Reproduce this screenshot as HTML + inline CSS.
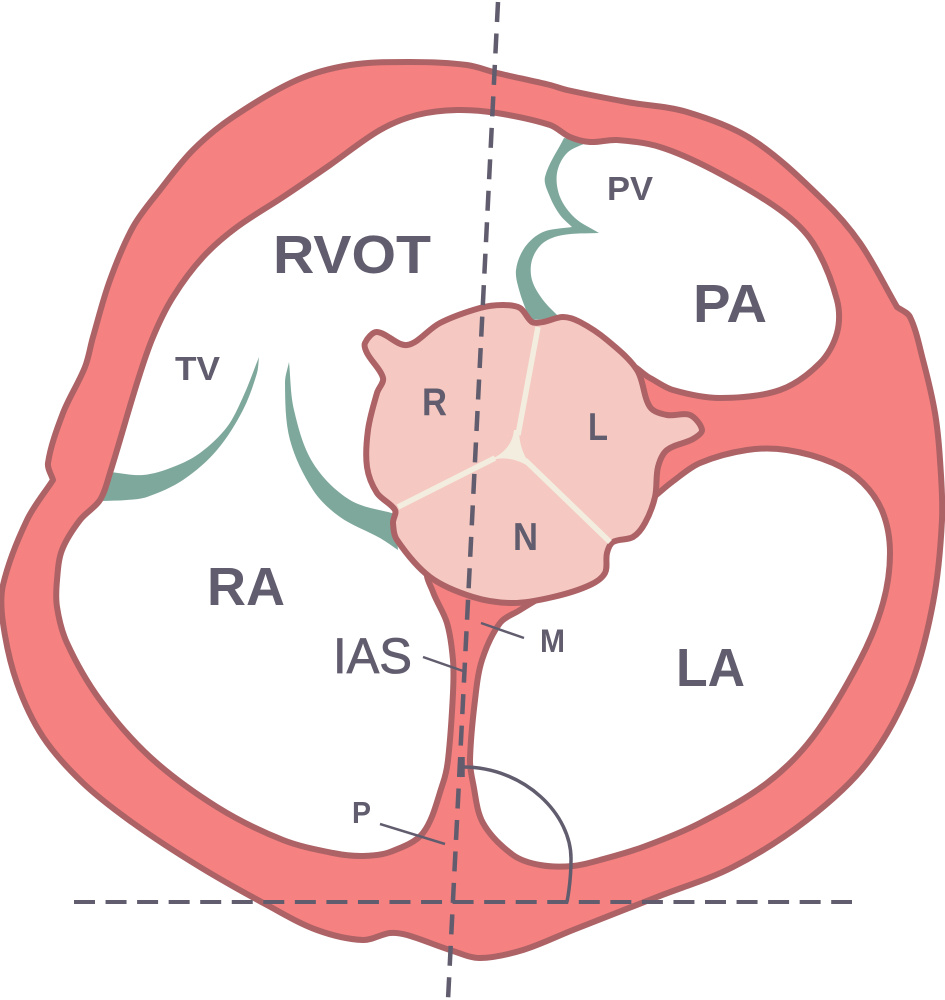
<!DOCTYPE html>
<html>
<head>
<meta charset="utf-8">
<style>
html,body{margin:0;padding:0;background:#fff;width:945px;height:1000px;overflow:hidden}
svg{display:block}
text{font-family:"Liberation Sans",sans-serif;fill:#625d6e;font-weight:bold}
</style>
</head>
<body>
<svg id="s" width="945" height="1000" viewBox="0 0 945 1000" xmlns="http://www.w3.org/2000/svg">
<path id="wall" fill="#f58181" stroke="#ad6266" stroke-width="6" stroke-linejoin="round"/>
<path id="cav" fill="#fff"/>
<path id="la" fill="#fff"/>
<path id="t1" fill="#7fa89c"/>
<path id="t2" fill="#7fa89c"/>
<path id="t3" fill="#7fa89c"/>
<path id="cavs" fill="none" stroke="#ad6266" stroke-width="6" stroke-linejoin="round"/>
<path id="las" fill="none" stroke="#ad6266" stroke-width="6" stroke-linejoin="round"/>
<path id="root" fill="#f5c9c1" stroke="#ad6266" stroke-width="6" stroke-linejoin="round"/>
<g stroke="#f3ede0" stroke-width="5.5" fill="none">
<line x1="538" y1="327" x2="518" y2="435"/>
<line x1="398" y1="507" x2="495" y2="458"/>
<line x1="610" y1="542" x2="525" y2="460"/>
</g>
<path d="M519 430 Q519 452 534 470 Q510 452 485 462 Q512 452 514 430 Z" fill="#f3ede0"/>
<g stroke="#625d6e" fill="none">
<line x1="498" y1="2" x2="448" y2="1000" stroke-width="4.5" stroke-dasharray="20 11.5"/>
<line x1="74" y1="902" x2="852" y2="902" stroke-width="4" stroke-dasharray="21 10.55"/>
<path d="M463 767 C525 767 572 815 571 860 Q571 880 567 902" stroke-width="3.5"/>
<line x1="463" y1="757" x2="463" y2="777" stroke-width="3.5"/>
<line x1="423" y1="657" x2="463" y2="671" stroke-width="2.5"/>
<line x1="481" y1="623" x2="524" y2="638" stroke-width="2.5"/>
<line x1="380" y1="824" x2="445" y2="844" stroke-width="2.5"/>
</g>
<text x="273" y="273" font-size="54" textLength="158" lengthAdjust="spacingAndGlyphs">RVOT</text>
<text x="207" y="605" font-size="54" textLength="78" lengthAdjust="spacingAndGlyphs">RA</text>
<text x="693" y="322" font-size="54" textLength="74" lengthAdjust="spacingAndGlyphs">PA</text>
<text x="676" y="686" font-size="54" textLength="69" lengthAdjust="spacingAndGlyphs">LA</text>
<text x="333" y="673" font-size="50" style="font-weight:normal;stroke:#625d6e;stroke-width:.8" textLength="79" lengthAdjust="spacingAndGlyphs">IAS</text>
<text x="175" y="380" font-size="33" textLength="45" lengthAdjust="spacingAndGlyphs">TV</text>
<text x="607" y="200" font-size="33" textLength="46" lengthAdjust="spacingAndGlyphs">PV</text>
<text x="422" y="415" font-size="39" textLength="25" lengthAdjust="spacingAndGlyphs">R</text>
<text x="588" y="440" font-size="39" textLength="20" lengthAdjust="spacingAndGlyphs">L</text>
<text x="513" y="550" font-size="39" textLength="25" lengthAdjust="spacingAndGlyphs">N</text>
<text x="540" y="652" font-size="32" textLength="25" lengthAdjust="spacingAndGlyphs">M</text>
<text x="352" y="823" font-size="31" textLength="19" lengthAdjust="spacingAndGlyphs">P</text>
</svg>
<script>
function L(a,b){return Math.hypot(a[0]-b[0],a[1]-b[1])||1;}
function tan(a,b,c){var s=L(a,b)+L(b,c);return [(c[0]-a[0])/s,(c[1]-a[1])/s];}
function cr(p){var n=p.length,d="M"+p[0][0]+" "+p[0][1];
for(var i=0;i<n;i++){var a=p[(i-1+n)%n],b=p[i],c=p[(i+1)%n],e=p[(i+2)%n];
if(b[2])a=b;if(c[2])e=c;
var l=L(b,c)/3,t1=tan(a,b,c),t2=tan(b,c,e);
d+=" C"+(b[0]+t1[0]*l).toFixed(1)+" "+(b[1]+t1[1]*l).toFixed(1)+" "+(c[0]-t2[0]*l).toFixed(1)+" "+(c[1]-t2[1]*l).toFixed(1)+" "+c[0]+" "+c[1];}
return d+"Z";}
function set(id,p){document.getElementById(id).setAttribute("d",cr(p));}
var cav=[[448,760],[453,693],[453,660],[447,623],[433,592],[428,570],[480,520],[560,420],[625,365],[650,378],[673,390],[720,398],[780,390],[820,363],[837,333],[837,300],[813,243],[780,210],[713,170],[660,147],[617,140],[590,142],[570,137],[550,125],[497,113],[457,110],[417,115],[380,130],[330,165],[283,197],[237,227],[203,257],[173,297],[153,337],[137,383],[110,473],[100,500],[80,520],[62,550],[57,580],[57,607],[67,643],[100,700],[150,757],[217,807],[283,840],[333,853],[363,856],[390,852],[423,833],[443,783]];
var la=[[470,760],[473,783],[483,823],[513,855],[540,865],[573,866],[600,860],[643,847],[700,823],[767,783],[813,737],[860,660],[883,603],[890,553],[883,513],[863,483],[833,463],[787,450],[747,450],[700,463],[672,482],[650,500],[620,520],[590,560],[560,585],[520,610],[500,623],[482,660],[475,700]];
set("wall",[[497,73],[550,85],[567,90],[627,102],[687,112],[753,140],[823,200],[860,243],[897,307,1],[910,317],[923,360],[935,413],[940,460],[942,520],[933,603],[910,687],[867,763],[807,820],[733,867],[657,897],[573,930],[523,950],[480,958],[450,950],[407,935],[390,933],[363,940],[317,930],[267,905],[200,867],[133,823],[83,783],[43,737],[17,683],[3,623],[3,585],[27,520],[53,480,1],[48,463],[63,413],[85,367],[93,337],[110,280],[133,227],[160,190],[193,150],[233,117],[297,80],[350,65],[410,62],[467,65]]);
set("cav",cav);set("cavs",cav);set("la",la);set("las",la);
set("root",[[503,305],[520,308],[532,322],[543,322],[563,317],[580,322],[607,340],[637,370],[650,407],[667,415],[690,415],[702,430],[693,439],[667,450],[658,467],[655,497],[645,523],[633,537],[613,542],[607,553],[605,573],[590,585],[553,597],[513,603],[473,597],[430,577],[397,540],[393,523],[395,510],[377,493],[367,467],[368,430],[377,393],[383,378],[367,353],[365,343],[377,332],[407,345],[440,323],[480,308]]);
set("t1",[[259,357,1],[243,397],[227,427],[200,453],[173,467],[143,475],[110,472,1],[100,501,1],[127,500],[147,497],[183,480],[217,450],[243,410],[257,373]]);
set("t2",[[289,362,1],[294,410],[313,463],[350,500],[395,514,1],[398,550,1],[380,538],[340,517],[313,490],[290,440],[285,383]]);
set("t3",[[564,138,1],[545,177],[550,197],[560,215],[572,227,1],[543,232],[525,247],[516,270],[520,293],[530,320,1],[560,318,1],[543,300],[532,280],[532,260],[543,243],[563,235],[599,233,1],[575,218],[560,197],[557,173],[567,153],[588,142,1]]);
</script>
</body>
</html>
